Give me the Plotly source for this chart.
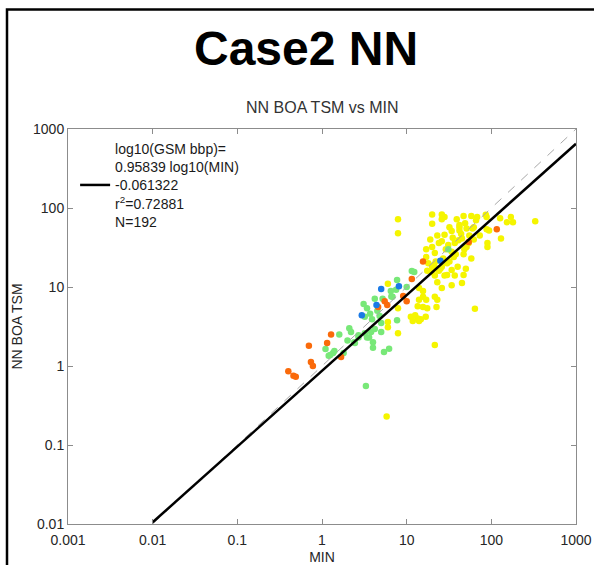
import math
import plotly.graph_objects as go

# ---- data ----
yellow_min = [7.9, 7.9, 20, 26, 28, 20, 26, 32, 39, 42, 47, 58, 68, 86, 88, 34, 42, 49, 62, 73, 88, 94,
              127, 153, 170, 180, 130, 330, 90, 90, 28, 17, 20, 21.5, 24, 26, 29, 34, 51, 54, 38, 47, 58,
              17, 18, 20, 21, 23, 25, 26, 17.5, 20, 21.5, 24, 28, 30, 34, 37, 50, 47, 23, 26, 34, 45,
              14, 15.6, 15.6, 17, 14, 21.5, 23, 13.5, 15.6, 17.5, 22.5, 6.0, 7.9, 11.2, 12.6, 13.5, 14.7,
              16.8, 11.8, 14, 6.0, 6.0, 7.9, 64, 21.5, 5.8, 66, 45, 42, 60, 51, 31, 37, 41, 27, 32, 22,
              19, 23, 35, 44, 55, 30, 40, 36, 48, 62]
yellow_tsm = [72, 48, 83, 83, 77, 63, 72, 57, 72, 61, 79, 79, 77, 82, 77, 51, 57, 64, 57, 45, 54, 52,
              74, 66, 77, 66, 41, 68, 36, 32, 46, 30, 32, 27, 36, 38, 30, 28, 32, 36, 26, 26, 23,
              24, 20, 18, 19, 17, 17, 18, 16, 15.5, 14, 16, 14, 14.2, 16.4, 14, 17, 14.2, 11.5, 9.7, 10.5, 11.2,
              9.7, 8.9, 7.5, 6.9, 6.9, 7.5, 6.9, 5.7, 5.6, 5.4, 5.6, 11, 5.4, 4.2, 4.4, 4.0, 3.9,
              4.2, 3.7, 3.7, 3.6, 3.1, 2.6, 5.3, 1.85, 0.23, 70, 41, 52, 55, 55, 34, 36, 39, 23, 21, 21,
              40, 45, 42, 47, 45, 20, 18, 24, 30, 40]

green_min = [7.7, 11.5, 12.3, 4.2, 3.4, 3.1, 3.7, 4.5, 4.8, 7.5, 6.5, 10, 7.7, 5.0, 3.8, 3.6, 4.0, 4.0,
             5.4, 6.2, 2.1, 2.2, 1.6, 2.4, 2.7, 2.0, 31, 1.2, 1.35, 1.8, 3.3, 3.2, 3.9, 5.0, 4.2, 2.45,
             1.1, 1.25, 1.4, 3.4, 6.8, 5.2, 6.6, 2.7, 3.2]
green_tsm = [12.3, 15.9, 15.5, 7.1, 5.4, 6.1, 4.6, 5.0, 4.3, 9.2, 8.9, 10, 3.8, 2.7, 2.7, 2.3, 2.0, 1.7,
             1.5, 1.65, 3.0, 2.7, 2.5, 2.0, 2.3, 2.1, 30, 1.35, 1.46, 1.46, 0.56, 4.2, 3.9, 3.5, 2.95, 1.95,
             1.64, 1.38, 1.55, 2.3, 7.5, 7.1, 7.6, 2.45, 2.6]

orange_min = [15.6, 11.5, 116, 54, 5.5, 5.9, 4.6, 9.1, 10, 1.28, 1.15, 0.70, 1.68, 0.74, 0.78, 0.40, 0.46, 0.49]
orange_tsm = [21, 12.6, 54, 37, 6.6, 5.9, 5.6, 7.7, 6.6, 2.5, 1.95, 1.8, 1.3, 1.12, 1.0, 0.86, 0.75, 0.73]

blue_min = [5.0, 8.1, 25, 2.95, 4.4]
blue_tsm = [9.4, 10.2, 21.5, 4.4, 5.9]

fit_slope = 0.95839
fit_intercept = -0.061322
fit_r2 = 0.72881
n_points = 192
line_x = [0.01, 1000]

tick_vals_x = [0.001, 0.01, 0.1, 1, 10, 100, 1000]
tick_text_x = ["0.001", "0.01", "0.1", "1", "10", "100", "1000"]
tick_vals_y = [0.01, 0.1, 1, 10, 100, 1000]
tick_text_y = ["0.01", "0.1", "1", "10", "100", "1000"]

FONT = "Liberation Sans, Arial, sans-serif"

fig = go.Figure()

groups = [
    (yellow_min, yellow_tsm, "#f5f500"),
    (green_min, green_tsm, "#78e878"),
    (orange_min, orange_tsm, "#fa6a0a"),
    (blue_min, blue_tsm, "#1a7ae6"),
]
for xs, ys, col in groups:
    fig.add_trace(go.Scatter(x=xs, y=ys, mode="markers",
                             marker=dict(size=6.5, color=col, line=dict(width=0)),
                             showlegend=False, hoverinfo="skip"))

# 1:1 line
fig.add_trace(go.Scatter(x=line_x, y=line_x, mode="lines",
                         line=dict(color="#a8a8a8", width=1, dash="dash"),
                         showlegend=False, hoverinfo="skip"))

# regression line
fit_y = [10 ** (fit_slope * math.log10(v) + fit_intercept) for v in line_x]
legend_name = ("log10(GSM bbp)=<br>%.5f log10(MIN)<br>%.6f<br>r<sup>2</sup>=%.5f<br>N=%d"
               % (fit_slope, fit_intercept, fit_r2, n_points))
fig.add_trace(go.Scatter(x=line_x, y=fit_y, mode="lines",
                         line=dict(color="black", width=2.5),
                         name=legend_name, showlegend=True, hoverinfo="skip"))

axis_common = dict(type="log", showline=True, linecolor="#8c8c8c", linewidth=1,
                   mirror="ticks", ticks="inside", ticklen=5, tickcolor="#8c8c8c",
                   showgrid=False, zeroline=False,
                   tickfont=dict(family=FONT, size=14, color="#262626"))

fig.update_layout(
    width=594, height=565,
    paper_bgcolor="white", plot_bgcolor="white",
    margin=dict(l=68, r=18, t=129, b=41, autoexpand=False),
    font=dict(family=FONT, color="#262626"),
    xaxis=dict(**axis_common, range=[-3, 3], tickvals=tick_vals_x, ticktext=tick_text_x,
               ticklabelstandoff=3,
               title=dict(text="MIN", font=dict(family=FONT, size=14, color="#262626"), standoff=6),
               automargin=False),
    yaxis=dict(**axis_common, range=[-2, 3], tickvals=tick_vals_y, ticktext=tick_text_y,
               title=dict(text="NN BOA TSM", font=dict(family=FONT, size=14, color="#262626"), standoff=7),
               automargin=False),
    showlegend=True,
    legend=dict(x=0.014, y=0.99, xanchor="left", yanchor="top", bgcolor="rgba(0,0,0,0)",
                borderwidth=0, font=dict(family=FONT, size=14, color="#1a1a1a"),
                valign="middle", itemwidth=30, tracegroupgap=0),
    annotations=[
        dict(text="<b>Case2 NN</b>", xref="paper", yref="paper", x=0.4685, y=1.205,
             xanchor="center", yanchor="middle", showarrow=False,
             font=dict(family=FONT, size=48, color="black")),
        dict(text="NN BOA TSM vs MIN", xref="paper", yref="paper", x=0.5, y=1.055,
             xanchor="center", yanchor="middle", showarrow=False,
             font=dict(family=FONT, size=16, color="#333333")),
    ],
    shapes=[
        dict(type="rect", xref="paper", yref="paper",
             x0=(7 - 68) / 508, x1=(640 - 68) / 508,
             y0=(524 - 620) / 395, y1=(524 - 9.5) / 395,
             line=dict(color="black", width=2.5), fillcolor="rgba(0,0,0,0)", layer="above"),
    ],
)

fig.write_html("out.html")
